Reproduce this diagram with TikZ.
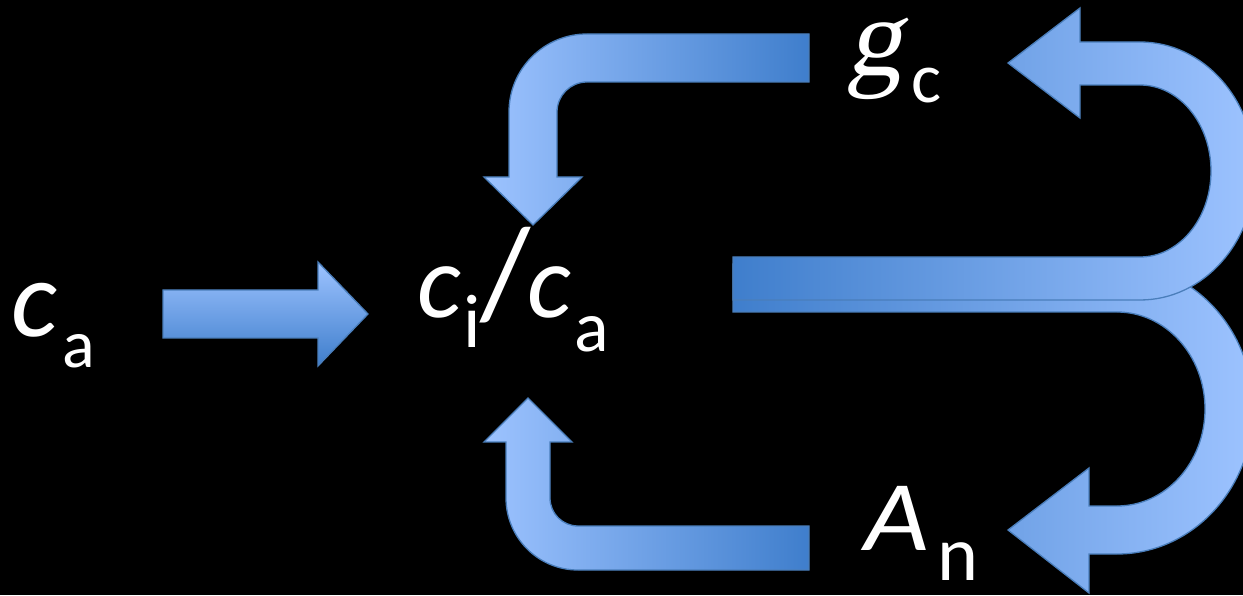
\documentclass[tikz,border=0pt]{standalone}
\usepackage{fontspec}
\setmainfont{Carlito}
\newfontfamily\gfont[FakeSlant=0.2]{Liberation Serif}
\newcommand\fsz[1]{\fontsize{#1pt}{#1pt}\selectfont}

\definecolor{arrlt}{HTML}{9DC3FF}
\definecolor{arrdk}{HTML}{3F7ECC}
\definecolor{arrline}{HTML}{4A7EBB}

\tikzset{
  blockarrow/.style={draw=arrline, line width=1.3pt, line join=miter},
  bentshade/.style={left color=arrlt, middle color=arrlt!72!arrdk, right color=arrdk},
  ushade/.style={left color=arrdk, right color=arrlt},
  lbl/.style={text=white, inner sep=0pt, anchor=base west},
}

\begin{document}
\begin{tikzpicture}[x=1pt, y=1pt]
  \useasboundingbox (0,0) rectangle (1243,595);
  \fill[black] (0,0) rectangle (1243,595);
  \clip (0,0) rectangle (1243,595);

  % straight arrow c_a -> c_i/c_a
  \draw[blockarrow, top color=arrlt, bottom color=arrdk]
    (163,305) -- (318,305) -- (318,333) -- (368,281) -- (318,229)
    -- (318,257) -- (163,257) -- cycle;

  % bent arrow from g_c down to c_i/c_a
  \draw[blockarrow, bentshade]
    (809,561) -- (587,561) arc[start angle=90, end angle=180, radius=78]
    -- (509,418) -- (484,418) -- (533,370) -- (582,418) -- (557,418)
    -- (557,483) arc[start angle=180, end angle=90, radius=30]
    -- (809,513) -- cycle;

  % bent arrow from A_n up to c_i/c_a
  \draw[blockarrow, bentshade]
    (809,25) -- (578,25) arc[start angle=-90, end angle=-180, radius=72]
    -- (506,153) -- (484,153) -- (528,197) -- (572,153) -- (550,153)
    -- (550,97) arc[start angle=180, end angle=270, radius=28]
    -- (809,69) -- cycle;

  % U-turn arrow down to A_n (behind)
  \draw[blockarrow, ushade]
    (733,331) -- (1117,331) arc[start angle=90, end angle=-90, x radius=136, y radius=145]
    -- (1089,41) -- (1089,2) -- (1008,65) -- (1089,127) -- (1089,89)
    -- (1117,89) arc[start angle=-90, end angle=90, x radius=88, y radius=97]
    -- (733,283) -- cycle;

  % U-turn arrow up to g_c (in front)
  \draw[blockarrow, ushade]
    (733,295) -- (1140,295) arc[start angle=-90, end angle=90, x radius=115, y radius=129]
    -- (1080,553) -- (1080,587) -- (1008,532) -- (1080,477) -- (1080,510)
    -- (1140,510) arc[start angle=90, end angle=-90, x radius=71, y radius=86]
    -- (733,338) -- cycle;

  % labels
  \node[lbl] (ca-c) at (11,258) {\fsz{110}\itshape c};
  \node[lbl] (ca-a) at (62,227) {\fsz{68}a};

  \node[lbl] (r-c1) at (417,277) {\fsz{105}\itshape c};
  \node[lbl] (r-i)  at (463,247) {\fsz{76}i};
  \node[lbl] (r-sl) at (480,277) {\fsz{130}/};
  \node[lbl] (r-c2) at (527,277) {\fsz{105}\itshape c};
  \node[lbl] (r-a)  at (574,243) {\fsz{72}a};

  \node[lbl] (g-g) at (846,519) {\fsz{112}\gfont g};
  \node[lbl] (g-c) at (911,492) {\fsz{71}c};

  \node[lbl] (an-A) at (864,45) {\scalebox{1.12}[1]{\fsz{100}\itshape A}};
  \node[lbl] (an-n) at (937,15) {\fsz{78}n};
\end{tikzpicture}
\end{document}
